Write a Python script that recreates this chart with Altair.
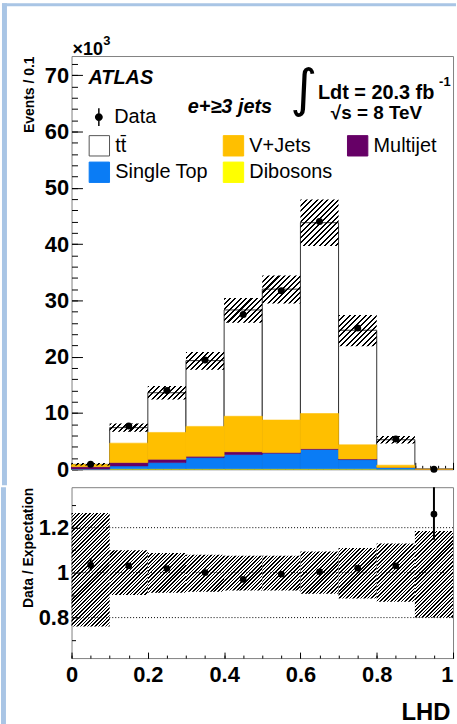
import altair as alt
import pandas as pd
import numpy as np

# ---------------- data (main panel in units of 10^3 events) ----------
bin_lo = [0.0, 0.1, 0.2, 0.3, 0.4, 0.5, 0.6, 0.7, 0.8, 0.9]
bin_hi = [0.1, 0.2, 0.3, 0.4, 0.5, 0.6, 0.7, 0.8, 0.9, 1.0]
bin_mid = [0.05, 0.15, 0.25, 0.35, 0.45, 0.55, 0.65, 0.75, 0.85, 0.95]

data_k = [0.90, 7.70, 14.0, 19.4, 27.5, 31.7, 44.0, 25.1, 5.40, 0.03]
ttbar_k = [0.00, 2.75, 7.05, 11.68, 18.88, 23.25, 33.90, 20.35, 4.52, 0.024]
vjets_k = [0.40, 3.45, 4.76, 5.30, 6.30, 5.77, 6.25, 2.50, 0.40, 0.0]
multijet_k = [0.40, 0.60, 0.60, 0.24, 0.50, 0.12, 0.13, 0.12, 0.0, 0.0]
singletop_k = [0.05, 0.50, 1.07, 1.96, 2.50, 2.74, 3.40, 1.63, 0.30, 0.0]
diboson_k = [0.02, 0.10, 0.12, 0.12, 0.12, 0.12, 0.12, 0.10, 0.03, 0.0]

band_lo_k = [0.66, 6.66, 12.38, 17.66, 26.04, 29.44, 39.68, 21.86, 4.57, 0.019]
band_hi_k = [1.10, 8.14, 14.78, 20.84, 30.42, 34.40, 47.92, 27.42, 5.93, 0.028]

ratio = [1.034, 1.03, 1.018, 1.0, 0.97, 0.993, 1.004, 1.02, 1.03, 1.26]
ratio_err_lo = [1.008, 1.026, 1.014, 0.996, 0.966, 0.989, 1.0, 1.016, 1.022, 1.146]
ratio_err_hi = [1.064, 1.034, 1.022, 1.004, 0.974, 0.997, 1.008, 1.024, 1.038, 1.40]
ratio_band_lo = [0.76, 0.90, 0.91, 0.915, 0.92, 0.92, 0.906, 0.885, 0.87, 0.80]
ratio_band_hi = [1.265, 1.10, 1.087, 1.08, 1.075, 1.075, 1.094, 1.11, 1.13, 1.185]
ratio_refs = [0.8, 1.0, 1.2]

# legend order (filled column by column: 2 rows x 3 columns)
processes = ["tt\u0304", "Single Top", "V+Jets", "Dibosons", "Multijet"]
process_colors = ["#ffffff", "#0a7cf5", "#ffbf00", "#ffff00", "#660066"]
process_strokes = ["#555555", "#0a7cf5", "#ffbf00", "#ffff00", "#660066"]
stack_order = ["Dibosons", "Single Top", "Multijet", "V+Jets"]
stack_values = {"Dibosons": diboson_k, "Single Top": singletop_k,
                "Multijet": multijet_k, "V+Jets": vjets_k}

# ---------------- tables ----------------
mc_total = [t + v + m + s + d for t, v, m, s, d in
            zip(ttbar_k, vjets_k, multijet_k, singletop_k, diboson_k)]
hist = pd.DataFrame({
    "idx": list(range(10)), "lo": bin_lo, "hi": bin_hi, "mid": bin_mid,
    "data": data_k, "mc": mc_total, "zero": [0.0] * 10,
    "blo": band_lo_k, "bhi": band_hi_k, "lab": ["Data"] * 10,
    "ratio": ratio, "elo": ratio_err_lo, "ehi": ratio_err_hi,
    "rlo": ratio_band_lo, "rhi": ratio_band_hi,
})
rows = []
for i in range(10):
    cum = 0.0
    for p in stack_order:
        v = stack_values[p][i]
        rows.append({"lo": bin_lo[i], "hi": bin_hi[i], "process": p,
                     "order": stack_order.index(p), "y0": cum, "y1": cum + v})
        cum += v
stack = pd.DataFrame(rows)
refs = pd.DataFrame({"ref": ratio_refs})
dummy = pd.DataFrame({"k": [0]})

# ---------------- styling ----------------
FONT = "Liberation Sans"
BLUE = "#a9c5e5"
CLEAR = "rgba(255,255,255,0)"
W_MAIN, H_MAIN = 384, 416
W_RAT, H_RAT = 384, 172
Y_MAIN = [0, 73.4]
Y_RAT = [0.62, 1.38]
PX_MAIN = H_MAIN / (Y_MAIN[1] - Y_MAIN[0])
PX_RAT = H_RAT / (Y_RAT[1] - Y_RAT[0])
BIN_W = W_MAIN / 10.0


def hatch(W, H, hperiod, dark):
    H = max(H, 1.0)
    a, b = 1.0 / H, 1.0 / W
    s = (a + b) / (a * a + b * b)
    n = (W + H) / hperiod
    stops = []
    k = 0
    while k / n < 1.0:
        t0 = round(k / n, 5)
        t1 = round(min((k + dark) / n, 1.0), 5)
        t2 = round(min((k + 1) / n, 1.0), 5)
        stops += [{"offset": t0, "color": "black"}, {"offset": t1, "color": "black"},
                  {"offset": t1, "color": CLEAR}, {"offset": t2, "color": CLEAR}]
        k += 1
    return {"gradient": "linear", "x1": 0, "y1": 0, "x2": s * a, "y2": s * b, "stops": stops}


xs = alt.Scale(domain=[0, 1], nice=False, zero=False)
ys_main = alt.Scale(domain=Y_MAIN, nice=False, zero=False)
ys_rat = alt.Scale(domain=Y_RAT, nice=False, zero=False)

AX = dict(domain=False, grid=False, tickColor="black", tickWidth=1,
          labelFont=FONT, titleFont=FONT, labelColor="black", titleColor="black")

x_major_main = alt.Axis(orient="bottom", values=[0.1 * i for i in range(11)], tickSize=7,
                        offset=-7, labels=False, title=None, **AX)
x_minor_main = alt.Axis(orient="bottom", values=[round(0.02 * i, 2) for i in range(51)],
                        tickSize=4, offset=-4, labels=False, title=None, **AX)
y_major_main = alt.Axis(orient="left", values=[0, 10, 20, 30, 40, 50, 60, 70], tickSize=11,
                        offset=-11, labelPadding=3, labelFontSize=22, labelFontWeight="bold",
                        labelOverlap=False, format="d",
                        title="Events / 0.1", titleFontSize=14, titleFontWeight="bold",
                        titleAngle=270, titleAlign="right", titleBaseline="middle",
                        titleX=-53, titleY=0, **AX)
y_minor_main = alt.Axis(orient="left", values=list(range(0, 74, 2)), tickSize=6, offset=-6,
                        labels=False, title=None, **AX)

x_major_rat = alt.Axis(orient="bottom", values=[0, 0.2, 0.4, 0.6, 0.8, 1.0], tickSize=6,
                       offset=-6, labelPadding=7, labelFontSize=22, labelFontWeight="bold",
                       labelOverlap=False,
                       labelExpr="datum.value == 0 ? '0' : datum.value == 1 ? '1' : format(datum.value, '.1f')",
                       labelAlign={"condition": {"test": "datum.value == 1", "value": "right"},
                                   "value": "center"},
                       title="LHD", titleFontSize=24, titleFontWeight="bold",
                       titleAlign="right", titleBaseline="alphabetic",
                       titleX=381, titleY=68, **AX)
x_minor_rat = alt.Axis(orient="bottom", values=[round(0.05 * i, 2) for i in range(21)],
                       tickSize=3, offset=-3, labels=False, title=None, **AX)
y_major_rat = alt.Axis(orient="left", values=[0.8, 1.0, 1.2], tickSize=8, offset=-8,
                       labelPadding=3, labelFontSize=22, labelFontWeight="bold",
                       labelOverlap=False,
                       labelExpr="datum.value == 1 ? '1' : format(datum.value, '.1f')",
                       title="Data / Expectation", titleFontSize=14, titleFontWeight="bold",
                       titleAngle=270, titleAlign="right", titleBaseline="middle",
                       titleX=-51, titleY=0, **AX)
y_minor_rat = alt.Axis(orient="left", values=[0.7, 0.9, 1.1, 1.3], tickSize=4, offset=-4,
                       labels=False, title=None, **AX)

# ---------------- main panel ----------------
tt_layer = alt.Chart(hist).mark_rect(fill="white", stroke="#333333", strokeWidth=1).encode(
    x=alt.X("lo:Q", scale=xs, axis=x_major_main), x2="hi",
    y=alt.Y("mc:Q", scale=ys_main, axis=y_major_main), y2="zero")

leg_common = dict(orient="none", title=None, padding=0, labelFont=FONT, labelFontSize=20,
                  labelColor="black", labelOffset=5, labelLimit=0)
fill_legend = alt.Legend(legendX=17, legendY=79, columns=3, symbolType="square",
                         symbolSize=420, symbolStrokeWidth=1, rowPadding=1, columnPadding=12,
                         **leg_common)
bkg_layer = alt.Chart(stack).mark_rect(strokeWidth=0.6).encode(
    x=alt.X("lo:Q", scale=xs, axis=x_minor_main), x2="hi",
    y=alt.Y("y0:Q", scale=ys_main, axis=y_minor_main), y2="y1",
    fill=alt.Fill("process:N", scale=alt.Scale(domain=processes, range=process_colors),
                  legend=fill_legend),
    stroke=alt.Stroke("process:N", scale=alt.Scale(domain=processes, range=process_strokes),
                      legend=fill_legend),
    order=alt.Order("order:Q"))

hatch_main = []
for i in range(10):
    h_px = (band_hi_k[i] - band_lo_k[i]) * PX_MAIN
    hatch_main.append(
        alt.Chart(hist).transform_filter(f"datum.idx == {i}")
        .mark_rect(fill=hatch(BIN_W, h_px, 5.4, 0.38), strokeWidth=0)
        .encode(x=alt.X("lo:Q", scale=xs, axis=None), x2="hi",
                y=alt.Y("blo:Q", scale=ys_main, axis=None), y2="bhi"))

DATA_SYMBOL = ("M-0.38,0A0.38,0.38,0,1,1,0.38,0A0.38,0.38,0,1,1,-0.38,0Z"
               "M-0.07,-0.86L0.07,-0.86L0.07,0.86L-0.07,0.86Z")
data_legend = alt.Legend(legendX=17, legendY=51, symbolType=DATA_SYMBOL, symbolSize=441,
                         symbolStrokeWidth=0, **leg_common)
points_main = alt.Chart(hist).mark_circle(size=50, opacity=1).encode(
    x=alt.X("mid:Q", scale=xs, axis=None),
    y=alt.Y("data:Q", scale=ys_main, axis=None),
    color=alt.Color("lab:N", scale=alt.Scale(domain=["Data"], range=["black"]),
                    legend=data_legend))


def note(text, x, y, size, italic=False, font=FONT, weight="bold", align="left",
         baseline="alphabetic", ys=ys_main):
    kw = dict(text=text, font=font, fontSize=size, fontWeight=weight, align=align,
              baseline=baseline, color="black")
    if italic:
        kw["fontStyle"] = "italic"
    return alt.Chart(dummy).mark_text(**kw).encode(
        x=alt.XDatum(x, scale=xs, axis=None), y=alt.YDatum(y, scale=ys, axis=None))


notes = [
    note("ATLAS", 0.0443, 68.47, 20, italic=True),
    note("e+\u22653 jets", 0.3047, 63.3, 20, italic=True),
    note("\u222b", 0.609, 67.4, 52, font="DejaVu Sans", weight="normal", align="center",
         baseline="middle"),
    note("Ldt = 20.3 fb", 0.6458, 65.73, 20),
    note("-1", 0.9635, 68.11, 13),
    note("\u221as = 8 TeV", 0.6797, 62.3, 19),
    note("\u00d710", 0.0026, 73.58, 18),
    note("3", 0.0833, 75.35, 13),
]

# page frame (light-blue border of the original screenshot)
frame_main = [
    alt.Chart(dummy).mark_rect(color=BLUE).encode(
        x=alt.value(-70), x2=alt.value(387), y=alt.value(-53), y2=alt.value(-50)),
    alt.Chart(dummy).mark_rect(color=BLUE).encode(
        x=alt.value(-70), x2=alt.value(-65), y=alt.value(-53), y2=alt.value(432)),
]

main = alt.layer(
    *frame_main, tt_layer, bkg_layer, *hatch_main, points_main, *notes
).resolve_axis(x="independent", y="independent").properties(width=W_MAIN, height=H_MAIN)

# ---------------- ratio panel ----------------
ref_layer = alt.Chart(refs).mark_rule(color="black", strokeWidth=1, strokeDash=[1, 2]).encode(
    y=alt.Y("ref:Q", scale=ys_rat, axis=y_major_rat))

hatch_rat = []
for i in range(10):
    h_px = (ratio_band_hi[i] - ratio_band_lo[i]) * PX_RAT
    hatch_rat.append(
        alt.Chart(hist).transform_filter(f"datum.idx == {i}")
        .mark_rect(fill=hatch(BIN_W, h_px, 3.6, 0.45), strokeWidth=0)
        .encode(x=alt.X("lo:Q", scale=xs, axis=x_major_rat if i == 0 else None), x2="hi",
                y=alt.Y("rlo:Q", scale=ys_rat, axis=None), y2="rhi"))

err_rat = alt.Chart(hist).mark_rule(color="black", strokeWidth=2, clip=True).encode(
    x=alt.X("mid:Q", scale=xs, axis=x_minor_rat),
    y=alt.Y("elo:Q", scale=ys_rat, axis=y_minor_rat), y2="ehi")
points_rat = alt.Chart(hist).mark_circle(size=45, opacity=1, color="black").encode(
    x=alt.X("mid:Q", scale=xs, axis=None),
    y=alt.Y("ratio:Q", scale=ys_rat, axis=None))

frame_rat = alt.Chart(dummy).mark_rect(color=BLUE).encode(
    x=alt.value(-71), x2=alt.value(-66), y=alt.value(0), y2=alt.value(239))

ratio_panel = alt.layer(
    frame_rat, ref_layer, *hatch_rat, err_rat, points_rat
).resolve_axis(x="independent", y="independent").properties(width=W_RAT, height=H_RAT)

chart = alt.vconcat(main, ratio_panel, spacing=0).properties(
    padding=0, background="white"
).configure_view(stroke="#808080", strokeWidth=1)

chart.save("out.html", embed_options={"renderer": "svg", "actions": False})
